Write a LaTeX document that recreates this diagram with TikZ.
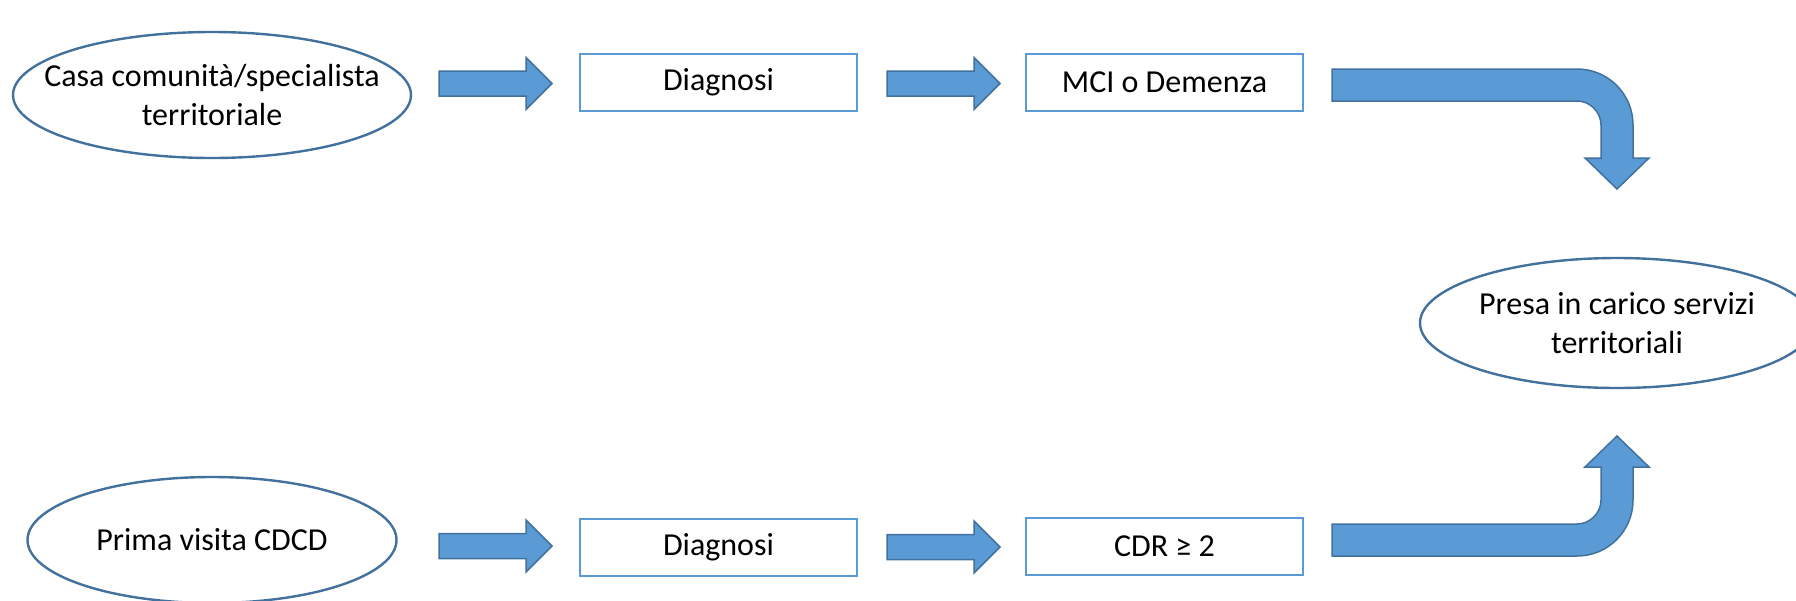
\documentclass[tikz,border=0pt]{standalone}
\usepackage{fontspec}
\setmainfont{Carlito}
\usepackage{tikz}
\usetikzlibrary{shapes, calc}
\definecolor{fillblue}{HTML}{5B9BD5}
\definecolor{edgeblue}{HTML}{41719C}
\tikzset{font=\fontsize{32}{39}\selectfont}
\tikzset{oval/.style={shape=ellipse, draw=edgeblue, fill=white, line width=2.4pt,
    align=center, inner xsep=-40pt, inner ysep=0pt}}
\tikzset{box/.style={shape=rectangle, draw=fillblue, fill=white, line width=2pt,
    minimum width=277pt, minimum height=57pt}}
\tikzset{blockarr/.style={draw=edgeblue, fill=fillblue, line width=1.5pt, line join=miter}}

\begin{document}
\begin{tikzpicture}[x=1pt, y=-1pt]
      \useasboundingbox (0,0) rectangle (1796,600);
      \node[oval, minimum width=398pt, minimum height=126pt] (casa) at (212,95) {Casa comunità/specialista\\territoriale};
      \node[box] (diag1) at (718.5,82.5) {Diagnosi};
      \node[box] (mci) at (1164.5,82.5) {MCI o Demenza};
      \node[oval, minimum width=394pt, minimum height=130pt] (presa) at (1617,323) {Presa in carico servizi\\territoriali};
      \node[oval, minimum width=369pt, minimum height=126pt] (prima) at (212,540) {Prima visita CDCD};
      \node[box] (diag2) at (718.5,547.5) {Diagnosi};
      \node[box] (cdr) at (1164.5,546.5) {CDR ≥ 2};
      \coordinate (a1s) at (439,83.5);
      \coordinate (a1e) at (552,83.5);
      \coordinate (a2s) at (887,83.5);
      \coordinate (a2e) at (1000,83.5);
      \coordinate (a3s) at (439,546);
      \coordinate (a3e) at (552,546);
      \coordinate (a4s) at (887,547);
      \coordinate (a4e) at (1000,547);
      \coordinate (mcibend) at (1577,125);
      \coordinate (cdrbend) at (1577,500);
      \foreach \s/\e in {a1s/a1e, a2s/a2e, a3s/a3e, a4s/a4e}
        \draw[blockarr] ($(\s)+(0,-12.5)$) -- ($(\e)+(-26,-12.5)$) -- ($(\e)+(-26,-26)$) -- (\e)
          -- ($(\e)+(-26,26)$) -- ($(\e)+(-26,12.5)$) -- ($(\s)+(0,12.5)$) -- cycle;
      \begin{scope}[shift={(mcibend)}]
      \draw[blockarr] (-245,-56) -- (0,-56) .. controls (31,-56) and (56,-31) .. (56,0) -- (56,33)
        -- (72,33) -- (40,64) -- (8,33) -- (24,33) -- (24,0) .. controls (24,-13) and (13,-24) .. (0,-24)
        -- (-245,-24) -- cycle;
      \end{scope}
      \begin{scope}[shift={(cdrbend)}, yscale=-1]
      \draw[blockarr] (-245,-56) -- (0,-56) .. controls (31,-56) and (56,-31) .. (56,0) -- (56,33)
        -- (72,33) -- (40,64) -- (8,33) -- (24,33) -- (24,0) .. controls (24,-13) and (13,-24) .. (0,-24)
        -- (-245,-24) -- cycle;
      \end{scope}
\end{tikzpicture}
\end{document}
